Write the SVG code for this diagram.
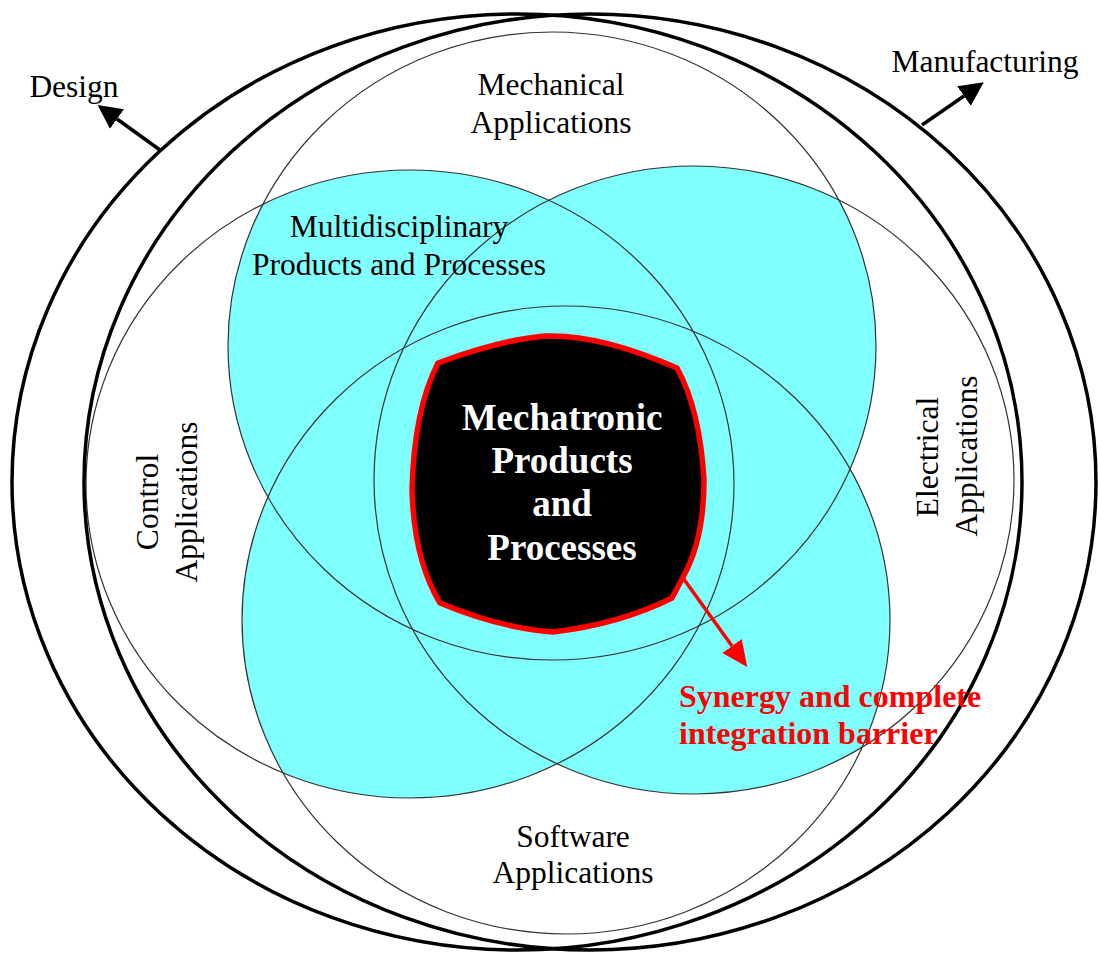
<svg xmlns="http://www.w3.org/2000/svg" width="1098" height="956" viewBox="0 0 1098 956">
  <defs>
    <style>
      .domain { fill: none; stroke: #333; stroke-width: 1.2; }
      .lifecycle { fill: none; stroke: #000; stroke-width: 3.5; }
      .lobe { fill: #80FFFF; stroke: none; }
      .lbl { font-family: "Liberation Serif", "Times New Roman", serif; font-size: 31.5px; fill: #000; text-anchor: middle; }
      .core-lbl { font-family: "Liberation Serif", "Times New Roman", serif; font-size: 37px; font-weight: bold; fill: #fff; text-anchor: middle; }
      .barrier-lbl { font-family: "Liberation Serif", "Times New Roman", serif; font-size: 32px; font-weight: bold; fill: #FF0000; }
      .arrow-k { stroke: #000; stroke-width: 3.5; fill: none; marker-end: url(#headK); }
      .arrow-r { stroke: #FF0000; stroke-width: 3.5; fill: none; marker-end: url(#headR); }
    </style>
    <ellipse id="eM" cx="552" cy="346" rx="324" ry="314"/>
    <ellipse id="eS" cx="566" cy="620" rx="324" ry="314"/>
    <ellipse id="eC" cx="410" cy="484" rx="324" ry="314"/>
    <ellipse id="eE" cx="694" cy="480" rx="320" ry="314"/>
    <clipPath id="clipM"><use href="#eM"/></clipPath>
    <clipPath id="clipS"><use href="#eS"/></clipPath>
    <marker id="headK" markerUnits="userSpaceOnUse" markerWidth="26" markerHeight="26" refX="0" refY="13" orient="auto">
      <path d="M0,1 L24,13 L0,25 z" fill="#000"/>
    </marker>
    <marker id="headR" markerUnits="userSpaceOnUse" markerWidth="28" markerHeight="26" refX="0" refY="13" orient="auto">
      <path d="M0,1 L26,13 L0,25 z" fill="#FF0000"/>
    </marker>
  </defs>

  <rect width="1098" height="956" fill="#fff"/>

  <!-- Overlaps of neighbouring disciplines: multidisciplinary zone -->
  <g id="multidisciplinary-zone">
    <use href="#eC" class="lobe" clip-path="url(#clipM)"/>
    <use href="#eE" class="lobe" clip-path="url(#clipM)"/>
    <use href="#eC" class="lobe" clip-path="url(#clipS)"/>
    <use href="#eE" class="lobe" clip-path="url(#clipS)"/>
  </g>

  <!-- Discipline circles -->
  <g id="mechanical">
    <use href="#eM" class="domain"/>
    <text class="lbl" x="551" y="95">Mechanical</text>
    <text class="lbl" x="551" y="133">Applications</text>
  </g>
  <g id="software">
    <use href="#eS" class="domain"/>
    <text class="lbl" x="573" y="847">Software</text>
    <text class="lbl" x="573" y="883">Applications</text>
  </g>
  <g id="control">
    <use href="#eC" class="domain"/>
    <text class="lbl" transform="translate(158,502) rotate(-90)">Control</text>
    <text class="lbl" transform="translate(197,502) rotate(-90)">Applications</text>
  </g>
  <g id="electrical">
    <use href="#eE" class="domain"/>
    <text class="lbl" transform="translate(938,457) rotate(-90)">Electrical</text>
    <text class="lbl" transform="translate(977,456) rotate(-90)">Applications</text>
  </g>

  <g id="multidisciplinary-label">
    <text class="lbl" x="399" y="237">Multidisciplinary</text>
    <text class="lbl" x="399" y="275">Products and Processes</text>
  </g>

  <!-- Life-cycle rings -->
  <g id="design">
    <ellipse class="lifecycle" cx="517" cy="482" rx="505" ry="468"/>
    <text class="lbl" x="74" y="97">Design</text>
  </g>
  <g id="manufacturing">
    <ellipse class="lifecycle" cx="590" cy="482" rx="506" ry="468"/>
    <text class="lbl" x="985" y="72">Manufacturing</text>
  </g>

  <!-- Mechatronic core: rounded octagon with red barrier outline -->
  <g id="mechatronic-core">
    <path d="M438,363 Q500,340 545,336 Q600,334 677,368 Q700,410 704,480 Q704,540 683,577 L672,598 Q620,624 553,632 Q500,628 440,603 Q414,560 412,490 Q414,410 438,363 Z"
          fill="#000" stroke="#FF0000" stroke-width="5.5" stroke-linejoin="round"/>
    <text class="core-lbl" x="562" y="430">Mechatronic</text>
    <text class="core-lbl" x="562" y="473">Products</text>
    <text class="core-lbl" x="562" y="516">and</text>
    <text class="core-lbl" x="562" y="560">Processes</text>
  </g>

  <g id="barrier-label">
    <text class="barrier-lbl" x="679" y="707">Synergy and complete</text>
    <text class="barrier-lbl" x="679" y="744">integration barrier</text>
  </g>

  <!-- Connectors -->
  <g id="connectors">
    <line class="arrow-k" x1="160" y1="150" x2="117" y2="119"/>
    <line class="arrow-k" x1="922" y1="125" x2="964" y2="96"/>
    <line class="arrow-r" x1="683" y1="578" x2="732" y2="646"/>
  </g>
</svg>
